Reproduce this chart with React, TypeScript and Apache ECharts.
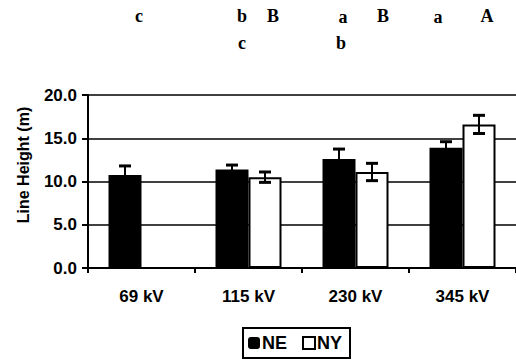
import React, { useEffect, useRef } from "react";
import * as echarts from "echarts";

const categories = ["69 kV", "115 kV", "230 kV", "345 kV"];
const neValues = [10.75, 11.4, 12.6, 13.9];
const neErrors = [1.05, 0.5, 1.15, 0.7];
const nyValues: (number | null)[] = [null, 10.5, 11.1, 16.6];
const nyErrors = [0, 0.6, 1.0, 1.05];
const yTicks = [0, 5, 10, 15, 20];
const yAxisTitle = "Line Height (m)";
// significance letters: [text, x, y]
const letterLabels: [string, number, number][] = [
  ["c", 139, 16],
  ["b", 242, 16],
  ["B", 273, 16],
  ["c", 242, 43],
  ["a", 343, 17],
  ["B", 383, 16],
  ["b", 341, 43],
  ["a", 438, 17],
  ["A", 487, 16],
];

const BAR_W = 33;

function errData(vals: (number | null)[], errs: number[]) {
  const out: number[][] = [];
  vals.forEach((v, i) => {
    if (v != null && errs[i] > 0) out.push([i, v - errs[i], v + errs[i]]);
  });
  return out;
}

function makeErrRender(offset: number) {
  return (params: any, api: any) => {
    const x = api.value(0);
    const lo = api.coord([x, api.value(1)]);
    const hi = api.coord([x, api.value(2)]);
    const cx = lo[0] + offset;
    const hw = 6;
    const st = { stroke: "#000", lineWidth: 2 };
    return {
      type: "group",
      children: [
        { type: "line", shape: { x1: cx, y1: hi[1], x2: cx, y2: lo[1] }, style: st },
        { type: "line", shape: { x1: cx - hw, y1: hi[1], x2: cx + hw, y2: hi[1] }, style: { stroke: "#000", lineWidth: 3 } },
        { type: "line", shape: { x1: cx - hw, y1: lo[1], x2: cx + hw, y2: lo[1] }, style: { stroke: "#000", lineWidth: 3 } },
      ],
    };
  };
}

export default function App() {
  const ref = useRef<HTMLDivElement>(null);
  useEffect(() => {
    if (!ref.current) return;
    const chart = echarts.init(ref.current, null, { renderer: "svg" });
    const sans = "Liberation Sans, Arial, sans-serif";
    chart.setOption({
      animation: false,
      backgroundColor: "#fff",
      grid: { left: 88, right: 0, top: 95, bottom: 94 },
      legend: {
        data: [
          { name: "NE", icon: "roundRect", itemStyle: { color: "#000" } },
          { name: "NY", icon: "rect", itemStyle: { color: "#fff", borderColor: "#000", borderWidth: 2 } },
        ],
        left: 243,
        top: 328,
        itemWidth: 12,
        itemHeight: 12,
        itemGap: 15,
        padding: [6, 8, 6, 5],
        borderColor: "#000",
        borderWidth: 2,
        textStyle: { fontFamily: sans, fontWeight: "bold", fontSize: 18, color: "#000", padding: [0, 0, 0, -3] },
      },
      xAxis: {
        type: "category",
        data: categories,
        axisLine: { lineStyle: { color: "#000", width: 2 } },
        axisTick: { show: true, length: 5, lineStyle: { color: "#000", width: 2 } },
        axisLabel: { margin: 20, color: "#000", fontFamily: sans, fontWeight: "bold", fontSize: 17 },
      },
      yAxis: {
        type: "value",
        min: 0,
        max: 20,
        interval: 5,
        axisLine: { show: true, lineStyle: { color: "#000", width: 2 } },
        axisTick: { show: true, length: 6, lineStyle: { color: "#000", width: 2 } },
        axisLabel: {
          margin: 11,
          color: "#000",
          fontFamily: sans,
          fontWeight: "bold",
          fontSize: 17,
          formatter: (v: number) => (yTicks.includes(v) ? v.toFixed(1) : ""),
        },
        splitLine: { lineStyle: { color: "#000", width: 1.5 } },
      },
      series: [
        {
          name: "NE",
          type: "bar",
          data: neValues,
          barWidth: BAR_W,
          barGap: "0%",
          itemStyle: { color: "#000" },
        },
        {
          name: "NY",
          type: "bar",
          data: nyValues,
          barWidth: BAR_W,
          barGap: "0%",
          itemStyle: { color: "#fff", borderColor: "#000", borderWidth: 2 },
        },
        {
          name: "NE err",
          type: "custom",
          renderItem: makeErrRender(-BAR_W / 2),
          data: errData(neValues, neErrors),
          encode: { x: 0, y: [1, 2] },
          z: 10,
        },
        {
          name: "NY err",
          type: "custom",
          renderItem: makeErrRender(BAR_W / 2),
          data: errData(nyValues, nyErrors),
          encode: { x: 0, y: [1, 2] },
          z: 10,
        },
      ],
      graphic: [
        {
          type: "text",
          x: 23,
          y: 165,
          rotation: Math.PI / 2,
          style: {
            text: yAxisTitle,
            fill: "#000",
            font: "bold 16px 'Liberation Sans', Arial, sans-serif",
            textAlign: "center",
            textVerticalAlign: "middle",
          },
        },
        ...letterLabels.map(([t, x, y]) => ({
          type: "text",
          x,
          y,
          style: {
            text: t,
            fill: "#000",
            font: "bold 18px 'Liberation Serif', serif",
            textAlign: "center",
            textVerticalAlign: "middle",
          },
        })),
      ],
    });
    return () => chart.dispose();
  }, []);
  return <div ref={ref} style={{ position: "fixed", left: 0, top: 0, width: 516, height: 362 }} />;
}
